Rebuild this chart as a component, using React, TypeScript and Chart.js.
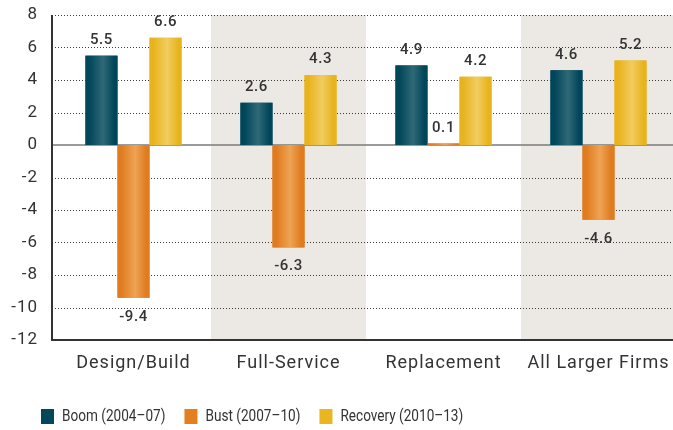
import React, { useEffect, useRef } from "react";
import { Chart, registerables } from "chart.js";

Chart.register(...registerables);

// ---- data ----
const categories = ["Design/Build", "Full-Service", "Replacement", "All Larger Firms"];
const seriesNames = ["Boom (2004–07)", "Bust (2007–10)", "Recovery (2010–13)"];
const boom = [5.5, 2.6, 4.9, 4.6];
const bust = [-9.4, -6.3, 0.1, -4.6];
const recovery = [6.6, 4.3, 4.2, 5.2];
const yMin = -12;
const yMax = 8;
const yStep = 2;

// ---- style ----
const FONT = "Roboto, 'DejaVu Sans', sans-serif";
const TEXT = "#333333";
const SHADE = "#ece9e5";
const palettes = [
  { edge: "#00465a", mid: "#2f6977", flat: "#02475a" },
  { edge: "#e07b1f", mid: "#eda454", flat: "#e47f1f" },
  { edge: "#e8b41d", mid: "#f1cc60", flat: "#e9b620" },
];

const W = 673;
const H = 430;

const spacingPlugin = {
  id: "spacing",
  beforeUpdate(chart: any) {
    chart.ctx.letterSpacing = "1px";
  },
  beforeDraw(chart: any) {
    chart.ctx.letterSpacing = "1px";
  },
};

const decorPlugin = {
  id: "decor",
  beforeDatasetsDraw(chart: any) {
    const { ctx, chartArea, scales } = chart;
    const x = scales.x;
    const y = scales.y;
    const axisX = chartArea.left - 4;
    const top = y.getPixelForValue(yMax);
    const bottom = y.getPixelForValue(yMin);
    ctx.save();
    const n = categories.length;
    const catW = (x.getPixelForValue(n - 1) - x.getPixelForValue(0)) / (n - 1);
    categories.forEach((_, i) => {
      if (i % 2 === 1) {
        const cx = x.getPixelForValue(i);
        ctx.fillStyle = SHADE;
        ctx.fillRect(cx - catW / 2, top, catW, bottom - top);
      }
    });
    ctx.strokeStyle = "#3a3a3a";
    ctx.lineWidth = 1;
    ctx.setLineDash([1, 2]);
    for (let v = yMin + yStep; v <= yMax; v += yStep) {
      if (v === 0) continue;
      const py = Math.round(y.getPixelForValue(v)) + 0.5;
      ctx.beginPath();
      ctx.moveTo(axisX, py);
      ctx.lineTo(chartArea.right, py);
      ctx.stroke();
    }
    ctx.setLineDash([]);
    const zy = y.getPixelForValue(0);
    ctx.strokeStyle = "#7a7a7a";
    ctx.lineWidth = 1.5;
    ctx.beginPath();
    ctx.moveTo(axisX, zy);
    ctx.lineTo(chartArea.right, zy);
    ctx.stroke();
    ctx.restore();
  },
  afterDatasetsDraw(chart: any) {
    const { ctx, chartArea, scales } = chart;
    const y = scales.y;
    ctx.save();
    chart.data.datasets.forEach((ds: any, di: number) => {
      const meta = chart.getDatasetMeta(di);
      const pal = palettes[di];
      meta.data.forEach((el: any, i: number) => {
        const p = el.getProps(["x", "y", "base", "width"], true);
        const left = p.x - p.width / 2;
        const g = ctx.createLinearGradient(left, 0, left + p.width, 0);
        g.addColorStop(0, pal.edge);
        g.addColorStop(0.12, pal.edge);
        g.addColorStop(0.55, pal.mid);
        g.addColorStop(0.9, pal.edge);
        g.addColorStop(1, pal.edge);
        ctx.fillStyle = g;
        const t = Math.min(p.y, p.base);
        const h = Math.abs(p.base - p.y);
        ctx.fillRect(left, t, p.width, h);
        const v = ds.data[i];
        ctx.fillStyle = TEXT;
        ctx.font = `500 15px ${FONT}`;
        ctx.letterSpacing = "0.6px";
        ctx.textAlign = "center";
        ctx.textBaseline = "middle";
        const ly = v >= 0 ? p.y - 15.5 : p.y + 19;
        ctx.fillText(v.toFixed(1), p.x, ly);
      });
    });
    const axisX = chartArea.left - 4;
    const top = y.getPixelForValue(yMax);
    const bottom = y.getPixelForValue(yMin);
    ctx.strokeStyle = "#333333";
    ctx.lineWidth = 2;
    ctx.beginPath();
    ctx.moveTo(axisX, top);
    ctx.lineTo(axisX, bottom);
    ctx.lineTo(chartArea.right, bottom);
    ctx.stroke();
    ctx.restore();
  },
  afterDraw(chart: any) {
    const { ctx } = chart;
    ctx.save();
    ctx.font = `17px ${FONT}`;
    ctx.letterSpacing = "0px";
    ctx.textBaseline = "middle";
    ctx.textAlign = "left";
    const sx = 0.8;
    let cx = 41;
    const cy = 417;
    seriesNames.forEach((name, i) => {
      ctx.fillStyle = palettes[i].flat;
      ctx.fillRect(cx, cy - 8, 13, 15);
      cx += 13 + 8;
      ctx.fillStyle = TEXT;
      ctx.save();
      ctx.translate(cx, cy);
      ctx.scale(sx, 1);
      ctx.fillText(name, 0, 0);
      ctx.restore();
      cx += ctx.measureText(name).width * sx + 19;
    });
    ctx.restore();
  },
};

export default function App() {
  const ref = useRef<HTMLCanvasElement | null>(null);
  useEffect(() => {
    if (!ref.current) return;
    const chart = new Chart(ref.current, {
      type: "bar",
      data: {
        labels: categories,
        datasets: [
          { label: seriesNames[0], data: boom, backgroundColor: palettes[0].flat },
          { label: seriesNames[1], data: bust, backgroundColor: palettes[1].flat },
          { label: seriesNames[2], data: recovery, backgroundColor: palettes[2].flat },
        ],
      },
      options: {
        responsive: false,
        animation: false,
        layout: { padding: { top: 15, left: 0, right: 0, bottom: 0 } },
        datasets: { bar: { categoryPercentage: 0.62, barPercentage: 1 } },
        plugins: { legend: { display: false }, tooltip: { enabled: false } },
        scales: {
          x: {
            grid: { display: false, drawTicks: false },
            border: { display: false },
            ticks: {
              font: { family: FONT, size: 18 },
              color: TEXT,
              padding: 13,
              maxRotation: 0,
              autoSkip: false,
            },
            afterFit: (s: any) => {
              s.height = 90;
              s.paddingLeft = 0;
              s.paddingRight = 0;
            },
          },
          y: {
            min: yMin,
            max: yMax,
            grid: { display: false, drawTicks: false },
            border: { display: false },
            ticks: {
              stepSize: yStep,
              font: { family: FONT, size: 17 },
              color: TEXT,
              padding: 18,
            },
            afterFit: (s: any) => {
              s.width = 56;
              s.paddingTop = 0;
              s.paddingBottom = 0;
            },
          },
        },
      },
      plugins: [spacingPlugin, decorPlugin],
    } as any);
    return () => chart.destroy();
  }, []);
  return (
    <div
      style={{
        position: "absolute",
        left: 0,
        top: 0,
        width: W,
        height: H,
        overflow: "hidden",
        background: "#ffffff",
      }}
    >
      <canvas ref={ref} width={676} height={H} style={{ display: "block", width: 676, height: H }} />
    </div>
  );
}
